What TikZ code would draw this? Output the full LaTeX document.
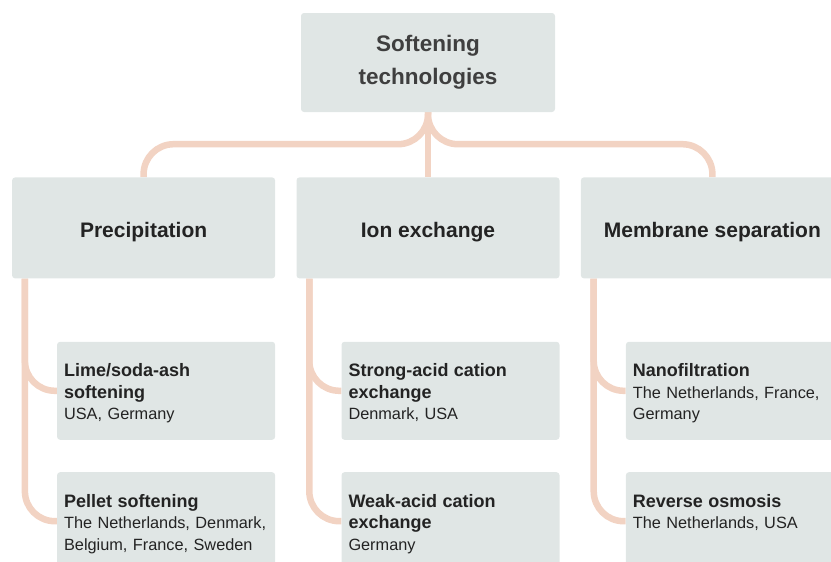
\documentclass[tikz,border=0pt]{standalone}
\usepackage{fontspec}
\setmainfont{Liberation Sans}
\usepackage{tikz}
\usetikzlibrary{positioning, backgrounds}

\definecolor{boxgrey}{HTML}{E0E6E5}
\definecolor{linkpeach}{HTML}{F2D3C3}
\definecolor{inkdark}{HTML}{232323}
\definecolor{inkgrey}{HTML}{3F3F3F}

\newcommand{\techname}[1]{{\fontsize{18pt}{21.5pt}\selectfont\bfseries #1}}

\begin{document}
\begin{tikzpicture}[x=1pt, y=1pt,
  root node/.style={rectangle, rounded corners=3pt, fill=boxgrey, text=inkgrey,
    minimum width=254pt, minimum height=99pt, align=center,
    font=\fontsize{22.5pt}{33pt}\selectfont\bfseries},
  group node/.style={rectangle, rounded corners=3pt, fill=boxgrey, text=inkdark,
    minimum width=263pt, minimum height=101pt, text height=19pt, text depth=0pt,
    font=\fontsize{21pt}{25pt}\selectfont\bfseries},
  leaf node/.style={rectangle, rounded corners=3pt, fill=boxgrey, text=inkdark,
    text width=204pt, inner xsep=7pt, inner ysep=0pt, text height=35pt, text depth=63pt,
    align=left, font=\fontsize{16.3pt}{21.5pt}\selectfont},
  link/.style={draw=linkpeach, line width=6.5pt, rounded corners=30pt}]

\useasboundingbox (0,0) rectangle (831,-562);
\clip (0,0) rectangle (831,-562);

\node[root node] (root) at (428,-62.5) {Softening\\technologies};
\node[group node] (ion) [below=65pt of root] {Ion exchange};
\node[group node] (prec) [left=21pt of ion] {Precipitation};
\node[group node] (memb) [right=21pt of ion] {Membrane separation};

\node[leaf node] (lime) [below=63pt of prec.south east, anchor=north east]
  {\techname{Lime/soda-ash\\softening}\\USA, Germany};
\node[leaf node] (pellet) [below=32pt of lime]
  {\techname{Pellet softening}\\The Netherlands, Denmark,\\Belgium, France, Sweden};
\node[leaf node] (strong) [below=63pt of ion.south east, anchor=north east]
  {\techname{Strong-acid cation\\exchange}\\Denmark, USA};
\node[leaf node] (weak) [below=32pt of strong]
  {\techname{Weak-acid cation\\exchange}\\Germany};
\node[leaf node] (nano) [below=63pt of memb.south west, anchor=north west, xshift=45pt]
  {\techname{Nanofiltration}\\The Netherlands, France,\\Germany};
\node[leaf node] (ro) [below=32pt of nano]
  {\techname{Reverse osmosis}\\The Netherlands, USA};

\begin{scope}[on background layer]
% tree from the root
\draw[link] (root.south) -- ++(0,-32) -| (prec.north);
\draw[link] (root.south) -- ++(0,-32) -| (memb.north);
\draw[link] (root.south) -- (ion.north);
% trunks down to the technologies
\draw[link] ([xshift=13pt]prec.south west) |- (lime.west);
\draw[link] ([xshift=13pt]prec.south west) |- (pellet.west);
\draw[link] ([xshift=13pt]ion.south west) |- (strong.west);
\draw[link] ([xshift=13pt]ion.south west) |- (weak.west);
\draw[link] ([xshift=13pt]memb.south west) |- (nano.west);
\draw[link] ([xshift=13pt]memb.south west) |- (ro.west);
\end{scope}

\end{tikzpicture}
\end{document}
